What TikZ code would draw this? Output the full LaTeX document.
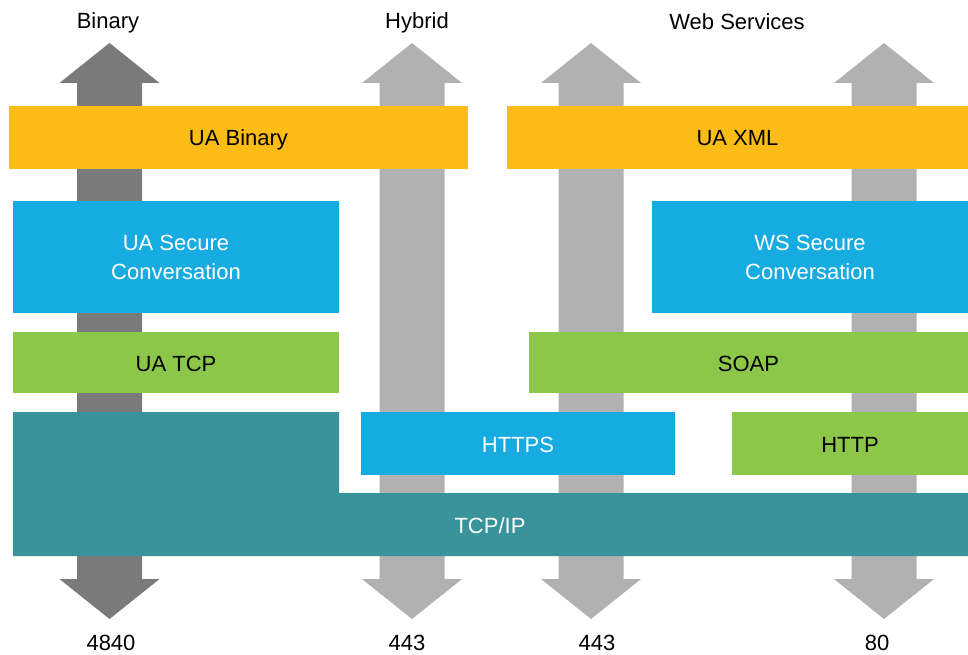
\documentclass[tikz,border=0pt]{standalone}
\usepackage{fontspec}
\setmainfont{Liberation Sans}
\definecolor{darkarrow}{HTML}{7A7A7A}
\definecolor{lightarrow}{HTML}{B0B1B0}
\definecolor{uayellow}{HTML}{FBBC15}
\definecolor{uablue}{HTML}{16ABE1}
\definecolor{uagreen}{HTML}{8DC74A}
\definecolor{uateal}{HTML}{38939A}
\newcommand{\dblarrow}[2]{%
  \fill[#2] (#1-32.5,83) -- (#1-50,83) -- (#1,43) -- (#1+50,83) -- (#1+32.5,83)
    -- (#1+32.5,579) -- (#1+50,579) -- (#1,619) -- (#1-50,579) -- (#1-32.5,579) -- cycle;}
\begin{document}
\begin{tikzpicture}[x=1pt,y=-1pt,
  every node/.style={font=\fontsize{22}{29}\selectfont, inner sep=0pt, outer sep=0pt},
  layer/.style={anchor=north west, align=center},
  one/.style={text height=17pt, text depth=0pt},
  lbl/.style={one, text=black}]
\useasboundingbox (0,0) rectangle (968,655);
% arrows
\dblarrow{109.5}{darkarrow}
\dblarrow{412}{lightarrow}
\dblarrow{591}{lightarrow}
\dblarrow{884}{lightarrow}
% top labels
\node[lbl] (tBinary) at (108,20.5) {Binary};
\node[lbl] (tHybrid) at (417,20.5) {Hybrid};
\node[lbl] (tWeb) at (737,21) {Web Services};
% bottom labels
\node[lbl] (b1) at (111,641.5) {4840};
\node[lbl] (b2) at (407,641.5) {443};
\node[lbl] (b3) at (597,641.5) {443};
\node[lbl] (b4) at (877,641.5) {80};
% layers
\node[layer, fill=uayellow, minimum width=459pt, minimum height=63pt] (uabin) at (9,106) {};
\node[one] at (uabin.center) {UA Binary};
\node[layer, fill=uayellow, minimum width=461pt, minimum height=63pt] (uaxml) at (507,106) {};
\node[one] at (uaxml.center) {UA XML};
\node[layer, fill=uablue, minimum width=326pt, minimum height=112pt] (uasc) at (13,201) {};
\node[text=white, align=center] at (uasc.center) {UA Secure\\Conversation};
\node[layer, fill=uablue, minimum width=316pt, minimum height=112pt] (wssc) at (652,201) {};
\node[text=white, align=center] at (wssc.center) {WS Secure\\Conversation};
\node[layer, fill=uagreen, minimum width=326pt, minimum height=61pt] (uatcp) at (13,332) {};
\node[one] at (uatcp.center) {UA TCP};
\node[layer, fill=uagreen, minimum width=439pt, minimum height=61pt] (soap) at (529,332) {};
\node[one] at (soap.center) {SOAP};
\node[layer, fill=uablue, minimum width=314pt, minimum height=63pt] (https) at (361,412) {};
\node[one, text=white] at (https.center) {HTTPS};
\node[layer, fill=uagreen, minimum width=236pt, minimum height=63pt] (http) at (732,412) {};
\node[one] at (http.center) {HTTP};
% TCP/IP L-shape
\fill[uateal] (13,412) -- (339,412) -- (339,493) -- (968,493) -- (968,556) -- (13,556) -- cycle;
\node[one, text=white] (tcpip) at (490,524.5) {TCP/IP};
\end{tikzpicture}
\end{document}
